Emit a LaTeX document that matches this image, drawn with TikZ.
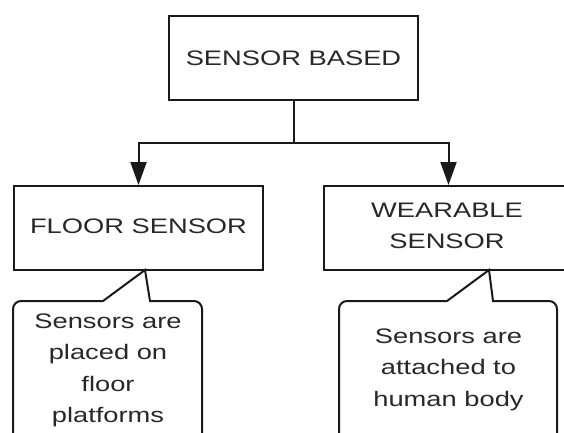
\documentclass[tikz,border=0pt]{standalone}
\usepackage{fontspec}
\setmainfont{Liberation Sans}
\usetikzlibrary{arrows.meta}
\definecolor{txt}{RGB}{40,40,40}
\definecolor{ln}{RGB}{25,25,25}
\newcommand{\wtxt}[1]{\scalebox{1.3}[1]{\begin{tabular}[t]{@{}c@{}}#1\end{tabular}}}
\tikzset{
  boxnode/.style={draw=ln, line width=2pt, minimum width=249pt, minimum height=84pt, inner sep=0pt, text=txt, font=\fontsize{21}{31.5}\selectfont},
  txtnode/.style={inner sep=0pt, text=txt, font=\fontsize{21}{31.5}\selectfont},
  conn/.style={draw=ln, line width=2pt},
  arr/.style={conn, -{Triangle[length=23pt,width=16pt]}},
  callout/.style={draw=ln, line width=2pt, line join=miter}
}
\begin{document}
\begin{tikzpicture}[x=1pt,y=-1pt]
\useasboundingbox (0,0) rectangle (564,433);
\clip (0,0) rectangle (564,433);
\fill[white] (0,0) rectangle (564,433);
% boxes
\node[boxnode] (top) at (293.5,58) {\scalebox{1.3}[1]{SENSOR BASED}};
\node[boxnode] (floor) at (138.5,228) {};
\node[boxnode] (wear) at (448.5,228) {};
\node[txtnode, anchor=base] (floort) at (138.5,233) {\scalebox{1.3}[1]{FLOOR SENSOR}};
\node[txtnode, anchor=base] (weart) at (447,217) {\wtxt{WEARABLE\\SENSOR}};
% connectors
\coordinate (junc) at (293.5,143);
\draw[conn] (top.south) -- (junc);
\draw[arr] (junc) -| (floor.north);
\draw[arr] (junc) -| (wear.north);
% callouts
\coordinate (lapex) at (145,270);
\draw[callout] (13,445) -- (13,309) arc[start angle=180,end angle=270,radius=8] -- (103,301) -- (lapex) -- (150,301) -- (194,301) arc[start angle=270,end angle=360,radius=8] -- (202,445);
\coordinate (rapex) at (489,270);
\draw[callout] (339,445) -- (339,309) arc[start angle=180,end angle=270,radius=8] -- (447,301) -- (rapex) -- (493,301) -- (549,301) arc[start angle=270,end angle=360,radius=8] -- (557,445);
\node[txtnode, anchor=base] (lnote) at (108,328) {\wtxt{Sensors are\\placed on\\floor\\platforms}};
\node[txtnode, anchor=base] (rnote) at (448.5,343) {\wtxt{Sensors are\\attached to\\human body}};
\end{tikzpicture}
\end{document}
